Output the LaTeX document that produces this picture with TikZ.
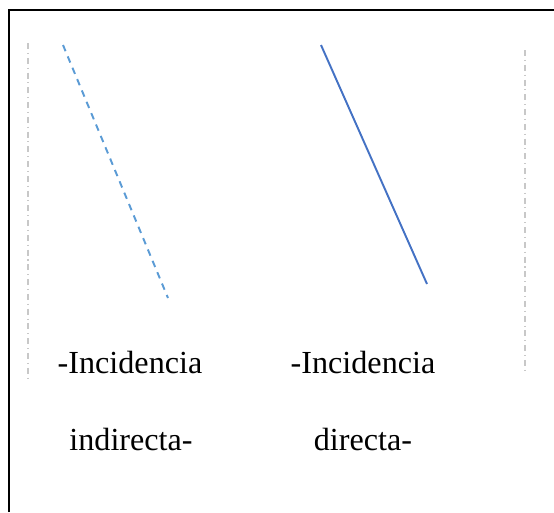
\documentclass[tikz,border=0pt]{standalone}
\usepackage{fontspec}
\setmainfont{Liberation Serif}
\usetikzlibrary{positioning}

\definecolor{lightblue}{RGB}{91,155,213}
\definecolor{darkblue}{RGB}{68,114,196}
\definecolor{guidegray}{RGB}{200,200,200}

\tikzset{
  label/.style = {anchor=base, inner sep=0pt, font=\fontsize{18.3}{20}\selectfont},
  guide/.style = {guidegray, line width=0.6pt, dash pattern=on 3.4pt off 2.2pt on 0.6pt off 2.2pt},
  ray/.style = {line width=1.1pt}
}

\begin{document}
\begin{tikzpicture}[x=0.02cm, y=-0.02cm]
                \useasboundingbox (0,0) rectangle (554,512);
                % frame
                \draw[line width=1.2pt] (9,512) -- (9,10) -- (554,10);

                % guides
                \draw[guide] (28,43) -- (28,378);
                \draw[guide] (525,50) -- (525,372);

                % rays
                \coordinate (A1) at (63,45);
                \coordinate (A2) at (168,298);
                \coordinate (B1) at (321,45);
                \coordinate (B2) at (427,284);
                \draw[ray, lightblue, dash pattern=on 3.8pt off 3.2pt] (A1) -- (A2);
                \draw[ray, darkblue] (B1) -- (B2);

                % labels
                \node[label] at (130,373) (IND1) {-Incidencia};
                \node[label] at (131,450) (IND2) {indirecta-};
                \node[label] at (363,373) (DIR1) {-Incidencia};
                \node[label] at (363,450) (DIR2) {directa-};
            \end{tikzpicture}
\end{document}
